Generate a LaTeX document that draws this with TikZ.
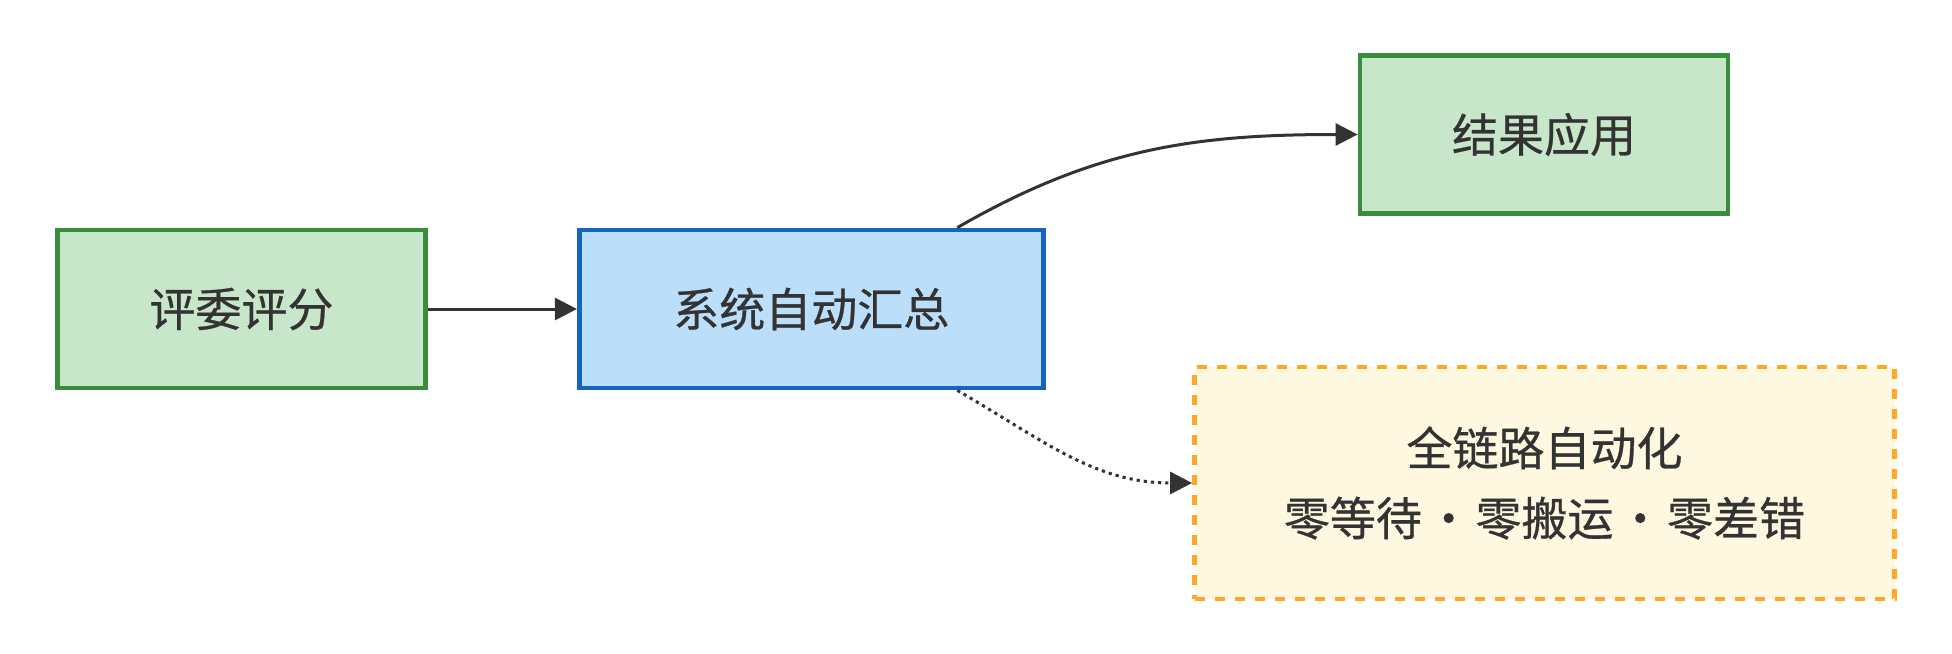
\documentclass[tikz,border=0pt]{standalone}
\usepackage{fontspec}
\setmainfont{Noto Sans CJK SC}[FakeBold=0.6]
\usepackage{xcolor}
\usetikzlibrary{arrows.meta, positioning}
\definecolor{leafgreen}{RGB}{56,142,60}
\definecolor{palegreen}{RGB}{200,230,201}
\definecolor{deepblue}{RGB}{21,101,192}
\definecolor{paleblue}{RGB}{187,222,251}
\definecolor{amber}{RGB}{255,167,38}
\definecolor{palecream}{RGB}{255,248,225}
\definecolor{darkgrey}{RGB}{51,51,51}
\tikzset{basebox/.style={rectangle, line width=2.4pt, text=darkgrey, align=center, inner sep=0pt, font=\fontsize{23pt}{36pt}\selectfont},
greenbox/.style={basebox, fill=palegreen, draw=leafgreen, minimum width=184pt, minimum height=79pt},
bluebox/.style={basebox, fill=paleblue, draw=deepblue, minimum width=232pt, minimum height=79pt},
creambox/.style={basebox, fill=palecream, draw=amber, dash pattern=on 5pt off 5pt, minimum width=350pt, minimum height=116pt}}
\tikzset{flowarrow/.style={-{Triangle[length=11pt, width=11pt]}, draw=darkgrey, line width=1.5pt},
dottedarrow/.style={flowarrow, dash pattern=on 1.6pt off 2pt}}

\begin{document}
\begin{tikzpicture}
        \useasboundingbox (0pt, 0pt) rectangle (976pt, -326.5pt);
        % Nodes
        \node[greenbox] (score) at (120.75pt, -154.5pt) {评委评分};
        \node[bluebox, right=74.5pt of score] (collect) {系统自动汇总};
        \node[greenbox] (apply) at (772pt, -67.25pt) {结果应用};
        \node[creambox] (auto) at (772.25pt, -241.5pt) {全链路自动化\\[-1pt]零等待\kern1.9pt·\kern1.9pt零搬运\kern1.9pt·\kern1.9pt零差错};
        % Arrows
        \draw[flowarrow] (score.east) -- (collect.west);
        \draw[flowarrow] ([xshift=73pt]collect.north) to[out=30, in=180] (apply.west);
        \draw[dottedarrow] ([xshift=73pt]collect.south) to[out=-30, in=180] (auto.west);
    \end{tikzpicture}
\end{document}
